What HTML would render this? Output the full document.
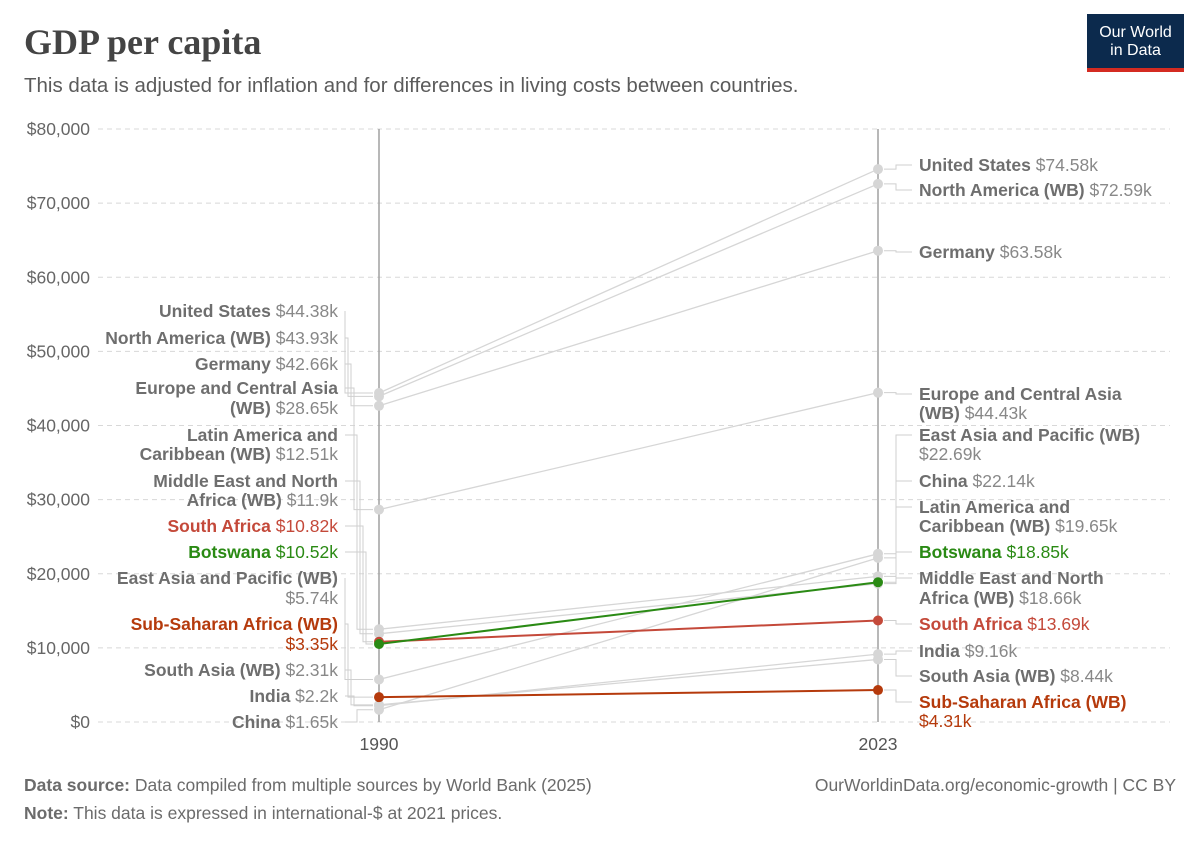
<!DOCTYPE html>
<html><head><meta charset="utf-8"><style>
body{margin:0;background:#fff;width:1200px;height:847px;overflow:hidden;font-family:"Liberation Sans",sans-serif}
#title{position:absolute;left:24px;top:21px;font-family:"Liberation Serif",serif;font-size:36px;color:#444;margin:0}
#sub{position:absolute;left:24px;top:74px;font-size:20.5px;color:#5b5b5b}
#logo{position:absolute;left:1087px;top:14px;width:97px;height:58px;background:#0c2a4d;color:#fff;font-size:16px;text-align:center;line-height:18px;padding-top:10px;box-sizing:border-box}
#logo:after{content:"";position:absolute;left:0;right:0;bottom:0;height:4px;background:#d42b21}
.foot{position:absolute;font-size:17.5px;color:#6b6b6b}
</style></head><body>
<h1 id="title">GDP per capita</h1>
<div id="sub">This data is adjusted for inflation and for differences in living costs between countries.</div>
<div id="logo">Our World<br>in Data</div>
<svg id="chart" width="1200" height="847" style="position:absolute;left:0;top:0"></svg>
<div class="foot" style="left:24px;top:775px"><b>Data source:</b> Data compiled from multiple sources by World Bank (2025)</div>
<div class="foot" style="left:24px;top:803px"><b>Note:</b> This data is expressed in international-$ at 2021 prices.</div>
<div class="foot" style="right:24px;top:775px">OurWorldinData.org/economic-growth | CC BY</div>
<script>
const entities=["United States","North America (WB)","Germany","Europe and Central Asia (WB)","Latin America and Caribbean (WB)","Middle East and North Africa (WB)","South Africa","Botswana","East Asia and Pacific (WB)","Sub-Saharan Africa (WB)","South Asia (WB)","India","China"];
const values1990=[44380,43930,42660,28650,12510,11900,10820,10520,5740,3350,2310,2200,1650];
const values2023=[74580,72590,63580,44430,19650,18660,13690,18850,22690,4310,8440,9160,22140];
const years=["1990","2023"];
const yTicks=[0,10000,20000,30000,40000,50000,60000,70000,80000];
const yTickLabels=["$0","$10,000","$20,000","$30,000","$40,000","$50,000","$60,000","$70,000","$80,000"];
const labels1990=["$44.38k","$43.93k","$42.66k","$28.65k","$12.51k","$11.9k","$10.82k","$10.52k","$5.74k","$3.35k","$2.31k","$2.2k","$1.65k"];
const labels2023=["$74.58k","$72.59k","$63.58k","$44.43k","$19.65k","$18.66k","$13.69k","$18.85k","$22.69k","$4.31k","$8.44k","$9.16k","$22.14k"];
const colorMap={"South Africa":"#c4493a","Botswana":"#2a8a14","Sub-Saharan Africa (WB)":"#b53a0c"};
const leftLayout={"United States":[311],"North America (WB)":[338],"Germany":[364],"Europe and Central Asia (WB)":[388,408,"Europe and Central Asia","(WB)"],"Latin America and Caribbean (WB)":[435,454,"Latin America and","Caribbean (WB)"],"Middle East and North Africa (WB)":[481,500,"Middle East and North","Africa (WB)"],"South Africa":[526],"Botswana":[552],"East Asia and Pacific (WB)":[578,598,"East Asia and Pacific (WB)",""],"Sub-Saharan Africa (WB)":[624,644,"Sub-Saharan Africa (WB)",""],"South Asia (WB)":[670],"India":[696],"China":[722]};
const rightLayout={"United States":[165],"North America (WB)":[190],"Germany":[252],"Europe and Central Asia (WB)":[394,413,"Europe and Central Asia","(WB)"],"East Asia and Pacific (WB)":[435,454,"East Asia and Pacific (WB)",""],"China":[481],"Latin America and Caribbean (WB)":[507,526,"Latin America and","Caribbean (WB)"],"Botswana":[552],"Middle East and North Africa (WB)":[578,598,"Middle East and North","Africa (WB)"],"South Africa":[624],"India":[651],"South Asia (WB)":[676],"Sub-Saharan Africa (WB)":[702,721,"Sub-Saharan Africa (WB)",""]};
const X0=379,X1=878,Y0=722,Y1=129;
const xs=[X0,X1];
const y=v=>Y0-(v/80000)*(Y0-Y1);
const svg=document.getElementById('chart');const NS="http://www.w3.org/2000/svg";
function mk(t,a,p){const e=document.createElementNS(NS,t);for(const k in a)e.setAttribute(k,a[k]);(p||svg).appendChild(e);return e;}
yTicks.forEach((t,i)=>{
 const l=mk('line',{x1:98,x2:1170,y1:y(t),y2:y(t),stroke:'#d8d8d8','stroke-dasharray':'5,4'});
 
 
 const tx=mk('text',{x:90,y:y(t)+6,'font-size':17.5,fill:'#666','text-anchor':'end'});tx.textContent=yTickLabels[i];
 
 
});
years.forEach((yr,i)=>{
 const l=mk('line',{x1:xs[i],x2:xs[i],y1:Y1,y2:Y0,stroke:'#a0a0a0','stroke-width':1.5});
 
 
 const t=mk('text',{x:xs[i],y:Y0+28,'font-size':17.5,fill:'#555','text-anchor':'middle'});t.textContent=yr;
 
 
});
const order=entities.map((e,i)=>i).sort((a,b)=>(colorMap[entities[a]]?1:0)-(colorMap[entities[b]]?1:0));
order.forEach(i=>{
 const e=entities[i];const c=colorMap[e]||'#d6d6d6';const tc=colorMap[e]||'#6e6e6e';const vc=colorMap[e]||'#888';
 const y0=y(values1990[i]),y1=y(values2023[i]);
 const g=mk('g',{});
 
 
 mk('line',{x1:X0,y1:y0,x2:X1,y2:y1,stroke:c,'stroke-width':colorMap[e]?2:1.3},g);
 mk('circle',{cx:X0,cy:y0,r:5,fill:c},g);mk('circle',{cx:X1,cy:y1,r:5,fill:c},g);
 [[leftLayout[e],labels1990[i],y0,'l'],[rightLayout[e],labels2023[i],y1,'r']].forEach(([L,val,py,side])=>{
  const left=side==='l';const tx=left?338:919;
  const ty=L[0]+6;
  const kx=left?345+((i*3)%24):896;
  const ly=L[0];
  mk('polyline',{points:left?`345,${ly} ${kx},${ly} ${kx},${py} ${X0-6},${py}`:`${X1+6},${py} ${kx},${py} ${kx},${ly} 912,${ly}`,fill:'none',stroke:'#cfcfcf','stroke-width':1},g);
  const t=mk('text',{x:tx,y:ty,'font-size':17.5,'text-anchor':left?'end':'start'},g);
  
  
  const two=L.length>1;
  const n1=two?L[2]:e;
  const s1=mk('tspan',{'font-weight':'bold',fill:tc},t);s1.textContent=n1;
  if(two){
   const t2=mk('text',{x:tx,y:L[1]+6,'font-size':17.5,'text-anchor':left?'end':'start'},g);
   if(L[3]){const a=mk('tspan',{'font-weight':'bold',fill:tc},t2);a.textContent=L[3]+' ';}
   const b=mk('tspan',{fill:vc},t2);b.textContent=val;
  } else {const b=mk('tspan',{fill:vc},t);b.textContent=' '+val;}
 });
});
</script>
</body></html>
